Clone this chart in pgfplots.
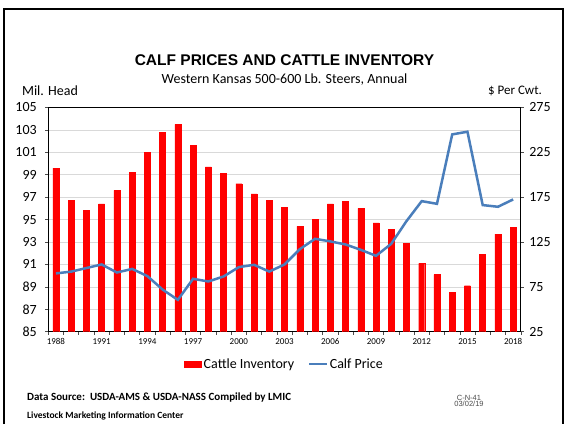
\documentclass[border=0pt]{standalone}
\usepackage{pgfplots}
\pgfplotsset{compat=1.18}
\usepackage{pgfplotstable}
\usepackage{fontspec}
\setmainfont{Carlito}
\newfontfamily\arial{Liberation Sans}
\definecolor{lineblue}{RGB}{74,126,187}
\pgfplotstableread{
year inv price
1988 99.6 90
1989 96.7 92
1990 95.8 96
1991 96.4 100
1992 97.6 91
1993 99.2 95
1994 101.0 87
1995 102.8 72
1996 103.5 60.5
1997 101.6 84
1998 99.7 81
1999 99.1 86.6
2000 98.2 97
2001 97.3 99.6
2002 96.7 92
2003 96.1 100
2004 94.4 117
2005 95.0 128.6
2006 96.4 125.7
2007 96.6 122.3
2008 96.0 116.3
2009 94.7 109.6
2010 94.1 123
2011 92.9 148.3
2012 91.1 170.6
2013 90.1 167.6
2014 88.5 245
2015 89.1 248
2016 91.9 166.2
2017 93.7 164.3
2018 94.3 172.5
}\data
\begin{document}
\begin{tikzpicture}[x=1pt,y=1pt]
\useasboundingbox (0,0) rectangle (565,424);
\draw[line width=2pt] (3.5,0) -- (3.5,415) -- (563,415) -- (563,0);
\begin{axis}[
  at={(48.3pt,92.3pt)}, anchor=south west, scale only axis,
  width=472.5pt, height=224.2pt,
  xmin=1987.5, xmax=2018.5, ymin=85, ymax=105,
  ytick={85,87,...,105},
  xtick={1987.5,1988.5,...,2018.5}, xticklabels={},
  extra x ticks={1988,1991,...,2018},
  extra x tick labels={1988,1991,1994,1997,2000,2003,2006,2009,2012,2015,2018},
  extra x tick style={major tick length=0pt, grid=none},
  xtick pos=bottom, ytick pos=left,
  tick align=outside, major tick length=3pt,
  ymajorgrids, grid style={gray!30, line width=0.6pt},
  axis line style={black, line width=0.8pt},
  tick style={black!70, line width=0.6pt},
  /pgf/number format/assume math mode=true,
  yticklabel style={font=\fontsize{14}{14}\selectfont, xshift=-5pt},
  xticklabel style={font=\fontsize{9}{9}\selectfont, yshift=-3pt},
]
\addplot[ybar, bar width=6pt, fill=red, draw=red] table[x=year,y=inv]{\data};
\end{axis}
\begin{axis}[
  at={(48.3pt,92.3pt)}, anchor=south west, scale only axis,
  width=472.5pt, height=224.2pt,
  xmin=1987.5, xmax=2018.5, ymin=25, ymax=275,
  ytick={25,75,...,275},
  axis y line*=right, axis x line=none,
  tick align=outside, major tick length=3pt,
  axis line style={black, line width=0.8pt},
  tick style={black!70, line width=0.6pt},
  /pgf/number format/assume math mode=true,
  yticklabel style={font=\fontsize{14}{14}\selectfont, xshift=2pt},
  legend columns=2,
  legend style={at={(0.5,-0.145)}, anchor=center, draw=none, fill=none,
    font=\fontsize{14}{14}\selectfont,
    /tikz/every even column/.append style={column sep=12pt}},
]
\addlegendimage{area legend, fill=red, draw=red}
\addlegendentry{Cattle Inventory}
\addplot[lineblue, line width=2.5pt] table[x=year,y=price]{\data};
\addlegendentry{Calf Price}
\end{axis}
\node[font=\arial\bfseries\fontsize{15.5}{15.5}\selectfont] at (284.5,364) {CALF PRICES AND CATTLE INVENTORY};
\node[font=\fontsize{14}{14}\selectfont] at (284.5,344) {Western Kansas 500-600 Lb. Steers, Annual};
\node[font=\fontsize{14}{14}\selectfont] at (50,333) {Mil. Head};
\node[font=\fontsize{13}{13}\selectfont] at (515,333) {\$ Per Cwt.};
\node[font=\bfseries\fontsize{11}{11}\selectfont, anchor=west, inner sep=0pt] at (27,26) {Data Source:\ \ USDA-AMS \& USDA-NASS Compiled by LMIC};
\node[font=\bfseries\fontsize{9.5}{9.5}\selectfont, anchor=west, inner sep=0pt] at (27,8) {Livestock Marketing Information Center};
\node[font=\arial\fontsize{7.5}{7.5}\selectfont, text=black!70, align=center] at (469,23) {C-N-41\\[-1pt]03/02/19};
\end{tikzpicture}
\end{document}
